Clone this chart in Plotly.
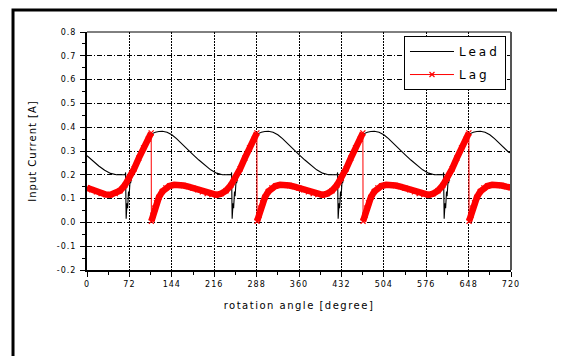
import plotly.graph_objects as go

# ---- data ----
lead_x = [0, 10, 20, 30, 40, 50, 60, 65, 65.5, 66.5, 68, 69, 70.5, 71.5, 73, 74, 76, 78, 82, 88, 96, 104, 110, 116, 122, 128, 136, 144, 152, 160, 168, 176,
          180, 190, 200, 210, 220, 230, 240, 245, 245.5, 246.5, 248, 249, 250.5, 251.5, 253, 254, 256, 258, 262, 268, 276, 284, 290, 296, 302, 308, 316, 324, 332, 340, 348, 356,
          360, 370, 380, 390, 400, 410, 420, 425, 425.5, 426.5, 428, 429, 430.5, 431.5, 433, 434, 436, 438, 442, 448, 456, 464, 470, 476, 482, 488, 496, 504, 512, 520, 528, 536,
          540, 550, 560, 570, 580, 590, 600, 605, 605.5, 606.5, 608, 609, 610.5, 611.5, 613, 614, 616, 618, 622, 628, 636, 644, 650, 656, 662, 668, 676, 684, 692, 700, 708, 716,
          720]
lead_y = [0.28, 0.258, 0.237, 0.219, 0.206, 0.2, 0.2, 0.2, 0.21, 0.015, 0.08, 0.06, 0.13, 0.11, 0.17, 0.165, 0.19, 0.205, 0.232, 0.268, 0.31, 0.348, 0.372, 0.379, 0.382, 0.383, 0.379, 0.368, 0.352, 0.334, 0.314, 0.295,
          0.285, 0.262, 0.24, 0.221, 0.207, 0.2, 0.2, 0.2, 0.21, 0.015, 0.08, 0.06, 0.13, 0.11, 0.17, 0.165, 0.19, 0.205, 0.232, 0.268, 0.31, 0.348, 0.372, 0.379, 0.382, 0.383, 0.379, 0.368, 0.352, 0.334, 0.314, 0.295,
          0.285, 0.262, 0.24, 0.221, 0.207, 0.2, 0.2, 0.2, 0.21, 0.015, 0.08, 0.06, 0.13, 0.11, 0.17, 0.165, 0.19, 0.205, 0.232, 0.268, 0.31, 0.348, 0.372, 0.379, 0.382, 0.383, 0.379, 0.368, 0.352, 0.334, 0.314, 0.295,
          0.285, 0.262, 0.24, 0.221, 0.207, 0.2, 0.2, 0.2, 0.21, 0.015, 0.08, 0.06, 0.13, 0.11, 0.17, 0.165, 0.19, 0.205, 0.232, 0.268, 0.31, 0.348, 0.372, 0.379, 0.382, 0.383, 0.379, 0.368, 0.352, 0.334, 0.314, 0.295,
          0.292]

lag_x = [0, 8, 16, 24, 32, 40, 48, 56, 64, 72, 80, 88, 96, 104, 109, 109.3, 112, 115, 118, 122, 128, 134, 140, 148, 156, 164, 172,
         180, 188, 196, 204, 212, 220, 228, 236, 244, 252, 260, 268, 276, 284, 288.5, 288.8, 292, 295, 298, 302, 308, 314, 320, 328, 336, 344, 352,
         360, 368, 376, 384, 392, 400, 408, 416, 424, 432, 440, 448, 456, 464, 468.5, 468.8, 472, 475, 478, 482, 488, 494, 500, 508, 516, 524, 532,
         540, 548, 556, 564, 572, 580, 588, 596, 604, 612, 620, 628, 636, 644, 648.5, 648.8, 652, 655, 658, 662, 668, 674, 680, 688, 696, 704, 712,
         720]
lag_y = [0.145, 0.137, 0.128, 0.121, 0.117, 0.116, 0.121, 0.133, 0.155, 0.186, 0.225, 0.27, 0.313, 0.35, 0.376, 0.005, 0.03, 0.06, 0.082, 0.105, 0.13, 0.145, 0.153, 0.158, 0.158, 0.155, 0.15,
         0.144, 0.137, 0.128, 0.121, 0.117, 0.116, 0.121, 0.133, 0.155, 0.186, 0.225, 0.27, 0.313, 0.35, 0.376, 0.005, 0.03, 0.06, 0.082, 0.105, 0.13, 0.145, 0.153, 0.158, 0.158, 0.155, 0.15,
         0.144, 0.137, 0.128, 0.121, 0.117, 0.116, 0.121, 0.133, 0.155, 0.186, 0.225, 0.27, 0.313, 0.35, 0.376, 0.005, 0.03, 0.06, 0.082, 0.105, 0.13, 0.145, 0.153, 0.158, 0.158, 0.155, 0.15,
         0.144, 0.137, 0.128, 0.121, 0.117, 0.116, 0.121, 0.133, 0.155, 0.186, 0.225, 0.27, 0.313, 0.35, 0.376, 0.005, 0.03, 0.06, 0.082, 0.105, 0.13, 0.145, 0.153, 0.158, 0.158, 0.155, 0.15,
         0.146]

x_tick_vals = [0, 72, 144, 216, 288, 360, 432, 504, 576, 648, 720]
x_tick_labels = ["0", "72", "144", "216", "288", "360", "432", "504", "576", "648", "720"]
y_tick_vals = [-0.2, -0.1, 0.0, 0.1, 0.2, 0.3, 0.4, 0.5, 0.6, 0.7, 0.8]
y_tick_labels = ["-0.2", "-0.1", "0.0", "0.1", "0.2", "0.3", "0.4", "0.5", "0.6", "0.7", "0.8"]

series_names = ["Lead", "Lag"]
x_title = "rotation angle [degree]"
y_title = "Input Current [A]"

# ---- build the thick band for Lag (break at the vertical drops) ----
band_x, band_y = [], []
for i, (xv, yv) in enumerate(zip(lag_x, lag_y)):
    if i > 0 and lag_y[i - 1] - yv > 0.2:
        band_x.append(None)
        band_y.append(None)
    band_x.append(xv)
    band_y.append(yv)

FONT = "DejaVu Sans"


def spaced(t, px):
    return f"<span style='letter-spacing:{px}px'>{t}</span>"


fig = go.Figure()
fig.add_trace(go.Scatter(
    x=lead_x, y=lead_y, mode="lines", name=spaced(series_names[0], 3),
    line=dict(color="black", width=1.1), legendgroup="a"))
fig.add_trace(go.Scatter(
    x=band_x, y=band_y, mode="lines", showlegend=False,
    line=dict(color="#ff0000", width=6.5), hoverinfo="skip", connectgaps=False))
fig.add_trace(go.Scatter(
    x=lag_x, y=lag_y, mode="lines+markers", name=spaced(series_names[1], 3),
    line=dict(color="#ff0000", width=1),
    marker=dict(symbol="x-thin", size=5, color="#ff0000", line=dict(color="#ff0000", width=1.2)),
    legendgroup="b"))

grid_common = dict(showgrid=True, gridcolor="black", gridwidth=1, zeroline=False,
                   showline=True, linecolor="black", linewidth=2,
                   ticks="outside", ticklen=5, tickwidth=1, tickcolor="black",
                   tickfont=dict(family=FONT, size=8, color="black"))

fig.update_xaxes(
    range=[0, 720], tickvals=x_tick_vals,
    ticktext=[spaced(t, 1) for t in x_tick_labels],
    griddash="2px,1px",
    minor=dict(dtick=36, tick0=0, ticks="outside", ticklen=3, tickcolor="black", showgrid=False),
    title=dict(text=spaced(x_title, 1.5), font=dict(family=FONT, size=10, color="black"), standoff=14),
    **grid_common)
fig.update_yaxes(
    range=[-0.2, 0.8], tickvals=y_tick_vals,
    ticktext=[spaced(t, 1) for t in y_tick_labels],
    griddash="5px,2px,1px,2px",
    minor=dict(dtick=0.05, tick0=0, ticks="outside", ticklen=3, tickcolor="black", showgrid=False),
    title=dict(text=spaced(y_title, 1), font=dict(family=FONT, size=10, color="black"), standoff=18),
    ticklabelstandoff=2,
    **grid_common)

shapes = [
    # outer frame (extends beyond the visible page on right/bottom)
    dict(type="rect", xref="paper", yref="paper", x0=-0.1745, x1=1.5, y0=-0.6, y1=1.0924,
         line=dict(color="black", width=3), layer="above"),
    # top border of plot area
    dict(type="line", xref="paper", yref="paper", x0=0, x1=1, y0=1, y1=1,
         line=dict(color="black", width=1), layer="above"),
    # right border of plot area
    dict(type="line", xref="paper", yref="paper", x0=1, x1=1, y0=0, y1=1,
         line=dict(color="#555555", width=2), layer="above"),
]

# page body has an 8px margin, so margins are shifted by 8px to keep plot area position
fig.update_layout(
    width=565, height=356,
    margin=dict(l=79, r=62, t=24, b=94, pad=0),
    paper_bgcolor="white", plot_bgcolor="white",
    font=dict(family=FONT, color="black"),
    shapes=shapes,
    legend=dict(x=0.7476, y=0.983, xanchor="left", yanchor="top",
                bgcolor="white", bordercolor="black", borderwidth=1,
                font=dict(family=FONT, size=12, color="black"),
                itemwidth=44,
                tracegroupgap=4, traceorder="grouped"),
)

fig.write_html("out.html")
